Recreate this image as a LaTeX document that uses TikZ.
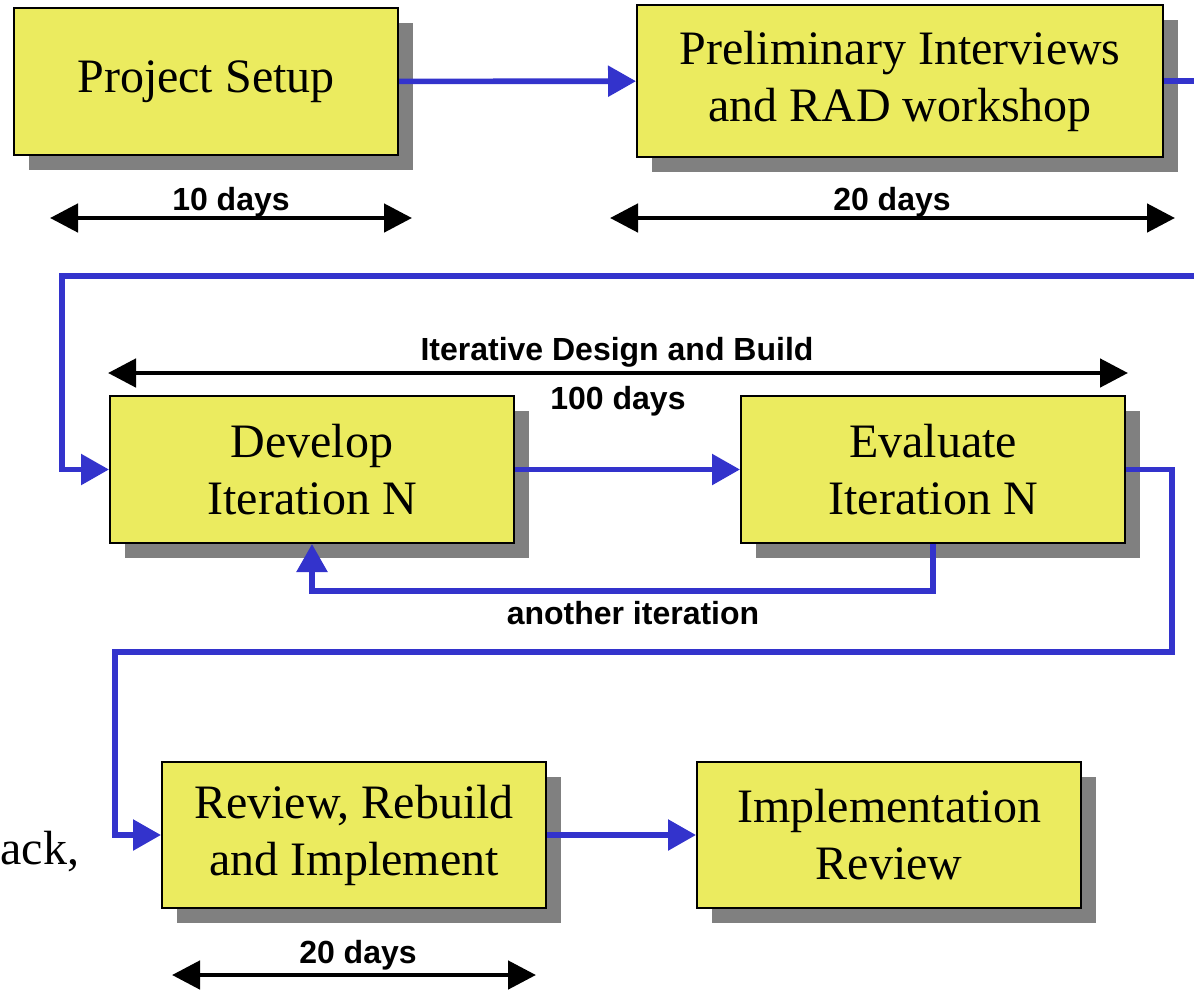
\documentclass[tikz,border=0pt]{standalone}
\usepackage{fontspec}
\setmainfont{Liberation Serif}
\setsansfont{Liberation Sans}
\usepackage{tikz}
\usetikzlibrary{arrows.meta,shadows}
\definecolor{radyellow}{RGB}{235,235,95}
\definecolor{radblue}{RGB}{51,51,204}
\definecolor{radshadow}{RGB}{128,128,128}

\begin{document}
\begin{tikzpicture}[
  x=0.5pt, y=-0.5pt,
  phase/.style={draw, line width=1pt, fill=radyellow, align=center, inner sep=0pt,
    minimum width=192pt, minimum height=73.5pt, font=\fontsize{24}{28.5}\selectfont,
    drop shadow={shadow xshift=7.5pt, shadow yshift=-7.5pt, fill=radshadow, opacity=1}},
  wire/.style={line width=2.8pt, radblue},
  flow/.style={wire, -{Triangle[length=14pt,width=15pt]}},
  span/.style={{Triangle[length=14pt,width=14pt]}-{Triangle[length=14pt,width=14pt]}, line width=2.4pt},
  lbl/.style={font=\sffamily\bfseries\fontsize{16}{19}\selectfont, inner sep=0pt, anchor=base}
]
\useasboundingbox (0,0) rectangle (1194,992);

\node[phase] (setup) at (206,81.5) {Project Setup};
\node[phase, minimum width=263pt, minimum height=76pt] (prelim) at (900,81) {Preliminary Interviews\\and RAD workshop};
\node[phase, minimum width=202pt] (develop) at (312,469.5) {Develop\\Iteration N};
\node[phase] (evaluate) at (933,469.5) {Evaluate\\Iteration N};
\node[phase, minimum height=73pt] (review) at (354,835) {Review, Rebuild\\and Implement};
\node[phase, minimum height=73pt] (implrev) at (889,835) {Implementation\\Review};
\node[anchor=base west, inner sep=0pt, font=\fontsize{24}{29}\selectfont] (cut) at (0,864) {ack,};

\coordinate (outR) at (1194,81);
\coordinate (inR) at (1194,276);
\coordinate (inL) at (62,276);
\coordinate (loopR) at (1172,469.5);
\coordinate (loopL) at (115,652);

\draw[flow] (setup) -- (prelim);
\draw[wire] (prelim.east) -- (outR);
\draw[flow] (inR) -- (inL) |- (develop.west);
\draw[flow] (develop) -- (evaluate);
\draw[flow] (evaluate.south) -- ++(0,47) -| (develop.south);
\draw[flow] (evaluate.east) -- (loopR) |- (loopL) |- (review.west);
\draw[flow] (review) -- (implrev);

\coordinate (s1a) at (50,218);   \coordinate (s1b) at (412,218);
\coordinate (s2a) at (610,218);  \coordinate (s2b) at (1175,218);
\coordinate (s3a) at (108,373);  \coordinate (s3b) at (1128,373);
\coordinate (s4a) at (172,975);  \coordinate (s4b) at (536,975);
\draw[span] (s1a) -- (s1b);
\draw[span] (s2a) -- (s2b);
\draw[span] (s3a) -- (s3b);
\draw[span] (s4a) -- (s4b);

\node[lbl] (d1) at (231,210) {10 days};
\node[lbl] (d2) at (892,210) {20 days};
\node[lbl] (idb) at (617,360) {Iterative Design and Build};
\node[lbl] (d3) at (618,409) {100 days};
\node[lbl] (again) at (633,624) {another iteration};
\node[lbl] (d4) at (358,963) {20 days};
\end{tikzpicture}
\end{document}
